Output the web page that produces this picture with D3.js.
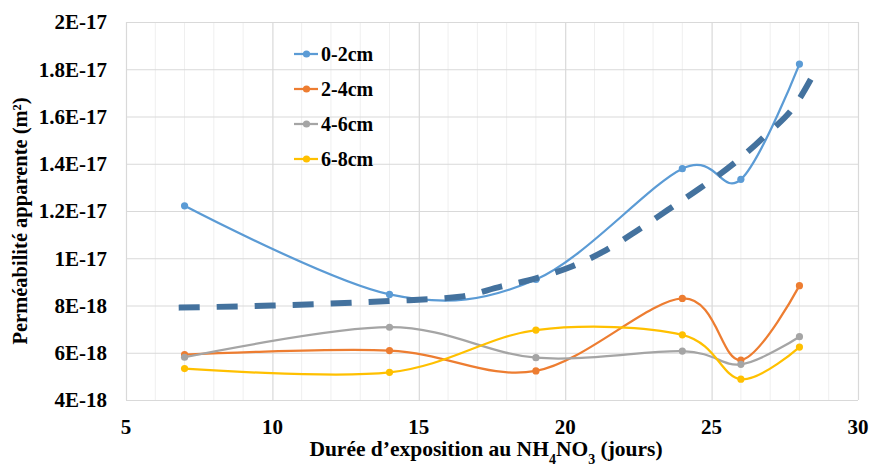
<!DOCTYPE html>
<html>
<head>
<meta charset="utf-8">
<script src="https://cdn.jsdelivr.net/npm/d3@7"></script>
<style>
  html, body { margin: 0; padding: 0; background: #fff; overflow: hidden; }
  svg { display: block; }
  text { font-family: "Liberation Serif", "Times New Roman", serif; font-weight: bold; fill: #000; }
</style>
</head>
<body>
<div id="chart"></div>
<script>
// set the size of svg
const width = 870; const height = 468;
const margin = {top: 22, right: 12, bottom: 68, left: 126};
const innerWidth = width - margin.left - margin.right;
const innerHeight = height - margin.top - margin.bottom;

// data
const days = [7, 14, 19, 24, 26, 28];
const seriesNames = ['0-2cm', '2-4cm', '4-6cm', '6-8cm'];
const s0_2 = [1.222e-17, 8.47e-18, 9.1e-18, 1.379e-17, 1.334e-17, 1.822e-17];
const s2_4 = [5.92e-18, 6.09e-18, 5.23e-18, 8.30e-18, 5.69e-18, 8.84e-18];
const s4_6 = [5.81e-18, 7.08e-18, 5.79e-18, 6.07e-18, 5.51e-18, 6.68e-18];
const s6_8 = [5.33e-18, 5.17e-18, 6.96e-18, 6.76e-18, 4.88e-18, 6.24e-18];
const seriesColors = ['#5B9BD5', '#ED7D31', '#A5A5A5', '#FFC000'];
// trend line (0-2cm)
const trendX = [6.8, 10, 14, 16.4, 17.8, 19, 20.2, 21.3, 22.4, 23.5, 24.6, 25.7, 26.8, 27.9, 28.5];
const trendY = [7.91e-18, 8.0e-18, 8.19e-18, 8.37e-18, 8.8e-18, 9.15e-18, 9.64e-18, 1.028e-17,
                1.112e-17, 1.204e-17, 1.296e-17, 1.395e-17, 1.515e-17, 1.656e-17, 1.783e-17];
const xTicks = [5, 10, 15, 20, 25, 30];
const yTicks = [4e-18, 6e-18, 8e-18, 1e-17, 1.2e-17, 1.4e-17, 1.6e-17, 1.8e-17, 2e-17];
const yTickLabels = ['4E-18', '6E-18', '8E-18', '1E-17', '1.2E-17', '1.4E-17', '1.6E-17', '1.8E-17', '2E-17'];

const allSeries = [s0_2, s2_4, s4_6, s6_8];

let svg = d3.select('#chart')
    .append('svg')
        .attr('width', width)
        .attr('height', height);
let plotG = svg.append('g')
    .attr('transform', `translate(${margin.left}, ${margin.top})`);

const x = d3.scaleLinear().domain([5, 30]).range([0, innerWidth]);
const y = d3.scaleLinear().domain([4e-18, 2e-17]).range([innerHeight, 0]);

// minor vertical grid every day
plotG.append('g')
    .selectAll('line')
    .data(d3.range(6, 30).filter(d => d % 5 !== 0))
    .join('line')
        .attr('x1', d => x(d)).attr('x2', d => x(d))
        .attr('y1', 0).attr('y2', innerHeight)
        .attr('stroke', '#EFEFEF').attr('stroke-width', 1);

// major grid (axis used only for the lines)
plotG.append('g')
    .attr('transform', `translate(0,${innerHeight})`)
    .call(d3.axisBottom(x).tickValues(xTicks).tickSize(-innerHeight))
    .call(g => g.select('.domain').remove())
    .call(g => g.selectAll('text').remove())
    .call(g => g.selectAll('line').attr('stroke', '#D9D9D9').attr('stroke-width', 1.2));
plotG.append('g')
    .call(d3.axisLeft(y).tickValues(yTicks).tickSize(-innerWidth))
    .call(g => g.select('.domain').remove())
    .call(g => g.selectAll('text').remove())
    .call(g => g.selectAll('line').attr('stroke', '#D9D9D9').attr('stroke-width', 1.2));

// tick labels
plotG.append('g')
    .selectAll('text')
    .data(yTicks)
    .join('text')
        .attr('x', -19)
        .attr('y', d => y(d))
        .attr('dy', '0.35em')
        .attr('text-anchor', 'end')
        .style('font-size', '21px')
        .text((d, i) => yTickLabels[i]);
plotG.append('g')
    .selectAll('text')
    .data(xTicks)
    .join('text')
        .attr('x', d => x(d))
        .attr('y', innerHeight + 34)
        .attr('text-anchor', 'middle')
        .style('font-size', '21px')
        .text(d => d);

// axis titles
const xTitle = svg.append('text')
    .attr('x', 486)
    .attr('y', 456)
    .attr('text-anchor', 'middle')
    .style('font-size', '21.5px');
xTitle.append('tspan').text('Durée d’exposition au NH');
xTitle.append('tspan').attr('baseline-shift', 'sub').style('font-size', '14px').text('4');
xTitle.append('tspan').text('NO');
xTitle.append('tspan').attr('baseline-shift', 'sub').style('font-size', '14px').text('3');
xTitle.append('tspan').text(' (jours)');

svg.append('text')
    .attr('transform', `translate(27, 221) rotate(-90)`)
    .attr('text-anchor', 'middle')
    .style('font-size', '20.5px')
    .text('Perméabilité apparente (m²)');

// series
const line = d3.line()
    .x(d => x(d[0]))
    .y(d => y(d[1]))
    .curve(d3.curveCatmullRom.alpha(0));

allSeries.forEach(function(vals, i) {
    const pts = days.map((d, j) => [d, vals[j]]);
    plotG.append('path')
        .datum(pts)
        .attr('fill', 'none')
        .attr('stroke', seriesColors[i])
        .attr('stroke-width', 2.25)
        .attr('d', line);
    plotG.append('g')
        .selectAll('circle')
        .data(pts)
        .join('circle')
            .attr('cx', d => x(d[0]))
            .attr('cy', d => y(d[1]))
            .attr('r', 3.6)
            .attr('fill', seriesColors[i]);
});

// dashed trend line
plotG.append('path')
    .datum(trendX.map((d, j) => [d, trendY[j]]))
    .attr('fill', 'none')
    .attr('stroke', '#44729E')
    .attr('stroke-width', 6)
    .attr('stroke-dasharray', '21,17')
    .attr('d', d3.line().x(d => x(d[0])).y(d => y(d[1])).curve(d3.curveMonotoneX));

// legend
const legend = svg.append('g')
    .attr('transform', 'translate(294, 54)');
seriesNames.forEach(function(name, i) {
    const row = legend.append('g').attr('transform', `translate(0, ${i * 35})`);
    row.append('line')
        .attr('x1', 0).attr('x2', 24)
        .attr('stroke', seriesColors[i]).attr('stroke-width', 2.25);
    row.append('circle')
        .attr('cx', 12.5).attr('r', 3.6)
        .attr('fill', seriesColors[i]);
    row.append('text')
        .attr('x', 27)
        .attr('y', 7)
        .style('font-size', '20px')
        .text(name);
});
</script>
</body>
</html>
